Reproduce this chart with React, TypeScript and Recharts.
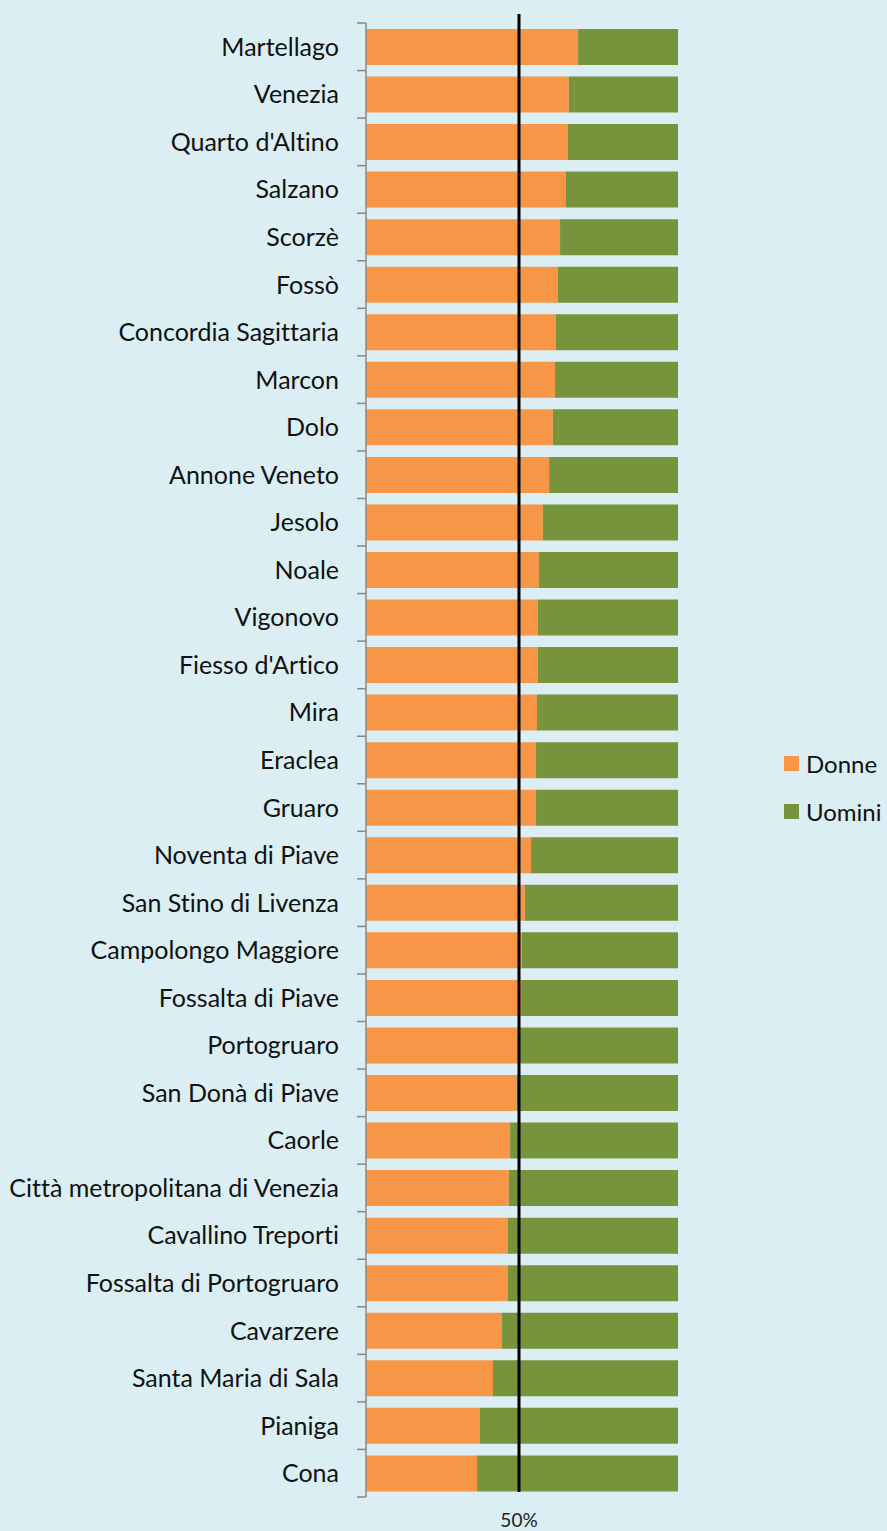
import React from "react";
import { BarChart, Bar, XAxis, YAxis, ReferenceLine } from "recharts";

const categories = [
  "Martellago", "Venezia", "Quarto d'Altino", "Salzano", "Scorzè", "Fossò",
  "Concordia Sagittaria", "Marcon", "Dolo", "Annone Veneto", "Jesolo", "Noale",
  "Vigonovo", "Fiesso d'Artico", "Mira", "Eraclea", "Gruaro", "Noventa di Piave",
  "San Stino di Livenza", "Campolongo Maggiore", "Fossalta di Piave", "Portogruaro",
  "San Donà di Piave", "Caorle", "Città metropolitana di Venezia", "Cavallino Treporti",
  "Fossalta di Portogruaro", "Cavarzere", "Santa Maria di Sala", "Pianiga", "Cona",
];

const donne = [
  68.0, 65.0, 64.7, 64.1, 62.2, 61.5, 60.9, 60.6, 59.9, 58.7, 56.7, 55.4, 55.1,
  55.1, 54.8, 54.5, 54.5, 52.9, 50.9, 49.9, 49.7, 48.5, 48.3, 46.2, 45.8, 45.5,
  45.5, 43.6, 40.7, 36.5, 35.6,
];

const uomini = [
  32.0, 35.0, 35.3, 35.9, 37.8, 38.5, 39.1, 39.4, 40.1, 41.3, 43.3, 44.6, 44.9,
  44.9, 45.2, 45.5, 45.5, 47.1, 49.1, 50.1, 50.3, 51.5, 51.7, 53.8, 54.2, 54.5,
  54.5, 56.4, 59.3, 63.5, 64.4,
];

const xTicks = [50];
const xTickLabels = ["50%"];

const seriesNames = ["Donne", "Uomini"];
const seriesColors = ["#F79646", "#77933C"];

const data = categories.map((c, i) => ({ name: c, Donne: donne[i], Uomini: uomini[i] }));

const W = 887;
const H = 1531;
const MARGIN = { top: 23, right: 209, bottom: 4, left: 0 };
const X_AXIS_H = 30;
const Y_AXIS_W = 366;
const PLOT_H = H - MARGIN.top - MARGIN.bottom - X_AXIS_H;
const BAND = PLOT_H / categories.length;
const FONT = "Lato, 'Open Sans', sans-serif";
const TEXT_STYLE: React.CSSProperties = { fontVariantLigatures: "none", fontFeatureSettings: '"liga" 0, "clig" 0' };

const YTick = (props: any) => {
  const { y, payload, index } = props;
  const ax = Y_AXIS_W;
  return (
    <g>
      <line x1={ax - 9} x2={ax} y1={y - BAND / 2} y2={y - BAND / 2} stroke="#888" strokeWidth={1.5} />
      {index === categories.length - 1 && (
        <line x1={ax - 9} x2={ax} y1={y + BAND / 2} y2={y + BAND / 2} stroke="#888" strokeWidth={1.5} />
      )}
      <text x={ax - 27} y={y} dy="0.36em" textAnchor="end" fontSize={25} fill="#111" fontFamily={FONT} style={TEXT_STYLE}>
        {payload.value}
      </text>
    </g>
  );
};

const XTick = (props: any) => {
  const { x, y, payload } = props;
  const i = xTicks.indexOf(payload.value);
  return (
    <text x={x - 3} y={y + 22} textAnchor="middle" fontSize={19} fill="#222" fontFamily={FONT} style={TEXT_STYLE}>
      {i >= 0 ? xTickLabels[i] : ""}
    </text>
  );
};

const RefShape = (p: any) => {
  const top = Math.min(p.y1, p.y2);
  const bot = Math.max(p.y1, p.y2);
  return <line x1={p.x1 - 3} x2={p.x2 - 3} y1={top - 9} y2={bot - 5} stroke="#000" strokeWidth={3} />;
};

export default function App() {
  return (
    <div
      style={{
        position: "absolute",
        left: 0,
        top: 0,
        width: W,
        height: H,
        background: "#DAEEF3",
        fontFamily: FONT,
      }}
    >
      <BarChart
        width={W}
        height={H}
        data={data}
        layout="vertical"
        margin={MARGIN}
        barCategoryGap="12.5%"
      >
        <XAxis
          type="number"
          domain={[0, 100]}
          ticks={xTicks}
          axisLine={false}
          tickLine={false}
          height={X_AXIS_H}
          tick={<XTick />}
          interval={0}
        />
        <YAxis
          type="category"
          dataKey="name"
          width={Y_AXIS_W}
          axisLine={{ stroke: "#888", strokeWidth: 1.5 }}
          tickLine={false}
          tick={<YTick />}
          interval={0}
        />
        <Bar dataKey="Donne" stackId="a" fill={seriesColors[0]} isAnimationActive={false} />
        <Bar dataKey="Uomini" stackId="a" fill={seriesColors[1]} isAnimationActive={false} />
        <ReferenceLine x={50} stroke="#000" strokeWidth={3} shape={<RefShape />} ifOverflow="visible" />
      </BarChart>
      <div style={{ position: "absolute", left: 784, top: 739, fontFamily: FONT }}>
        {seriesNames.map((n, i) => (
          <div key={n} style={{ display: "flex", alignItems: "center", height: 48 }}>
            <div style={{ width: 15, height: 15, background: seriesColors[i], marginRight: 7 }} />
            <span style={{ fontSize: 24, color: "#111", ...TEXT_STYLE }}>{n}</span>
          </div>
        ))}
      </div>
    </div>
  );
}
